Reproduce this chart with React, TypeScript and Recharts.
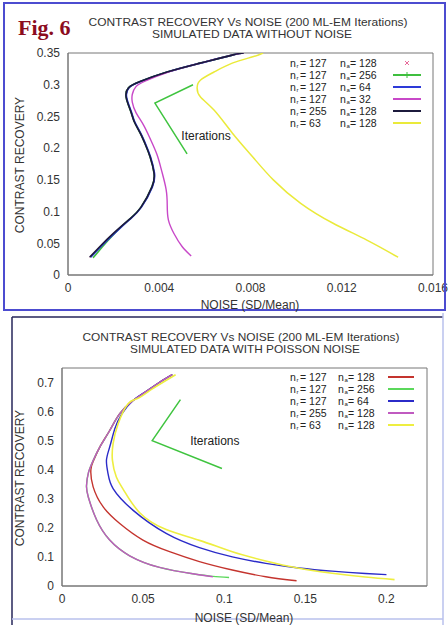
import { Line, LineChart, ReferenceArea, ReferenceDot, XAxis, YAxis } from "recharts";

// ---- Fig. 6 top: simulated data without noise  [noise, contrast recovery]
const topNr127Na128: number[][] = [
  [0.00095, 0.028], [0.0014, 0.045], [0.002, 0.066], [0.0027, 0.088], [0.0032, 0.107], [0.00368, 0.139],
  [0.00377, 0.161], [0.0036, 0.186], [0.0034, 0.205], [0.00316, 0.224], [0.0029, 0.242], [0.00275, 0.258],
  [0.00255, 0.28], [0.00265, 0.295], [0.00316, 0.305], [0.00434, 0.32], [0.00579, 0.334], [0.00723, 0.347],
  [0.0077, 0.35],
];
const topNr127Na256: number[][] = [
  [0.0011, 0.027], [0.0015, 0.044], [0.002, 0.064], [0.0027, 0.088], [0.0032, 0.107], [0.00368, 0.139],
  [0.00377, 0.161], [0.0036, 0.186], [0.0034, 0.205], [0.00316, 0.224], [0.0029, 0.242], [0.00275, 0.258],
  [0.00255, 0.28], [0.00265, 0.295], [0.00316, 0.305], [0.00434, 0.32], [0.00579, 0.334], [0.00723, 0.347],
  [0.0077, 0.35],
];
const topNr127Na64: number[][] = [
  [0.001, 0.028], [0.00145, 0.045], [0.00205, 0.066], [0.00272, 0.088], [0.00322, 0.107], [0.0037, 0.139],
  [0.00379, 0.161], [0.00362, 0.186], [0.00342, 0.205], [0.00318, 0.224], [0.00292, 0.242], [0.00277, 0.258],
  [0.00257, 0.28], [0.00267, 0.295], [0.00318, 0.305], [0.00436, 0.32], [0.0058, 0.334], [0.00724, 0.347],
  [0.0077, 0.35],
];
const topNr127Na32: number[][] = [
  [0.0054, 0.03], [0.005, 0.045], [0.00465, 0.065], [0.0044, 0.087], [0.00435, 0.11], [0.0043, 0.135],
  [0.0041, 0.165], [0.0039, 0.19], [0.0036, 0.215], [0.0033, 0.237], [0.00298, 0.256], [0.00282, 0.272],
  [0.00282, 0.285], [0.00298, 0.297], [0.0034, 0.306], [0.0044, 0.32], [0.0058, 0.334], [0.00724, 0.347],
  [0.0077, 0.35],
];
const topNr255Na128: number[][] = topNr127Na128;
const topNr63Na128: number[][] = [
  [0.01447, 0.028], [0.0131, 0.055], [0.0116, 0.082], [0.0102, 0.113], [0.009, 0.15], [0.0081, 0.186],
  [0.0072, 0.224], [0.0064, 0.26], [0.0058, 0.281], [0.00566, 0.295], [0.0058, 0.307], [0.0064, 0.32],
  [0.0072, 0.334], [0.0081, 0.344], [0.00855, 0.35],
];
const topArrow: number[][] = [[0.00548, 0.3], [0.00381, 0.271], [0.00522, 0.191]];
const topXTicks = [0, 0.004, 0.008, 0.012, 0.016];
const topYTicks = [0, 0.05, 0.1, 0.15, 0.2, 0.25, 0.3, 0.35];

// ---- bottom: simulated data with Poisson noise
const botNr127Na128: number[][] = [
  [0.068, 0.727], [0.06, 0.7], [0.052, 0.67], [0.0438, 0.638], [0.0356, 0.593], [0.0294, 0.535],
  [0.0233, 0.478], [0.0195, 0.432], [0.0178, 0.4], [0.0192, 0.341], [0.0254, 0.272], [0.0356, 0.215],
  [0.0499, 0.158], [0.0663, 0.118], [0.0847, 0.084], [0.105, 0.055], [0.1256, 0.032], [0.1446, 0.018],
];
const botNr127Na256: number[][] = [
  [0.068, 0.727], [0.06, 0.7], [0.052, 0.67], [0.0438, 0.638], [0.0356, 0.593], [0.0294, 0.535],
  [0.0233, 0.478], [0.0192, 0.432], [0.0163, 0.39], [0.0151, 0.345], [0.0162, 0.306], [0.0213, 0.228],
  [0.0294, 0.158], [0.0417, 0.104], [0.0601, 0.064], [0.0806, 0.042], [0.093, 0.033], [0.103, 0.029],
];
const botNr127Na64: number[][] = [
  [0.068, 0.727], [0.06, 0.7], [0.052, 0.67], [0.0438, 0.638], [0.0366, 0.59], [0.0325, 0.54],
  [0.0294, 0.478], [0.0274, 0.432], [0.0284, 0.386], [0.0315, 0.335], [0.0437, 0.261], [0.0642, 0.181],
  [0.0847, 0.132], [0.105, 0.1], [0.1256, 0.078], [0.146, 0.062], [0.1665, 0.051], [0.187, 0.043], [0.2, 0.039],
];
const botNr255Na128: number[][] = [
  [0.068, 0.727], [0.06, 0.7], [0.052, 0.67], [0.0438, 0.638], [0.0356, 0.593], [0.0294, 0.535],
  [0.0233, 0.478], [0.0192, 0.432], [0.0163, 0.39], [0.0151, 0.345], [0.0162, 0.306], [0.0213, 0.228],
  [0.0294, 0.158], [0.0417, 0.104], [0.0601, 0.064], [0.0806, 0.042], [0.093, 0.032],
];
const botNr63Na128: number[][] = [
  [0.07, 0.727], [0.062, 0.7], [0.054, 0.672], [0.0465, 0.645], [0.0407, 0.627], [0.0346, 0.558],
  [0.0315, 0.49], [0.0311, 0.432], [0.0335, 0.375], [0.038, 0.33], [0.0479, 0.252], [0.0642, 0.194],
  [0.0847, 0.157], [0.105, 0.118], [0.1256, 0.086], [0.146, 0.061], [0.1665, 0.044], [0.187, 0.031], [0.205, 0.022],
];
const botArrow: number[][] = [[0.073, 0.641], [0.0556, 0.5], [0.0986, 0.404]];
const botXTicks = [0, 0.05, 0.1, 0.15, 0.2];
const botYTicks = [0, 0.1, 0.2, 0.3, 0.4, 0.5, 0.6, 0.7];

const topNr = ["127", "127", "127", "127", "255", "63"];
const topNa = ["128", "256", "64", "32", "128", "128"];
const botNr = ["127", "127", "127", "255", "63"];
const botNa = ["128", "256", "64", "128", "128"];

const FONT = "'Liberation Sans', Arial, Helvetica, sans-serif";
const INK = "#333";

const toXY = (pts: number[][]) => pts.map(([x, y]) => ({ x, y }));

type Series = { pts: number[][]; color: string; width: number; marker?: "plus" | "star"; key: string };

const topSeries: Series[] = [
  { key: "t0", pts: topNr127Na128, color: "#e86a9a", width: 1, marker: "star" },
  { key: "t1", pts: topNr127Na256, color: "#3fbf3f", width: 1.6, marker: "plus" },
  { key: "t2", pts: topNr127Na64, color: "#2d3ad8", width: 1.6 },
  { key: "t3", pts: topNr127Na32, color: "#c848c8", width: 1.4 },
  { key: "t4", pts: topNr255Na128, color: "#1c1a3c", width: 1.6 },
  { key: "t5", pts: topNr63Na128, color: "#eaea3a", width: 1.5 },
];
const botSeries: Series[] = [
  { key: "b0", pts: botNr127Na128, color: "#c4342e", width: 1.4 },
  { key: "b1", pts: botNr127Na256, color: "#5bd85b", width: 1.4 },
  { key: "b2", pts: botNr127Na64, color: "#2b2bc8", width: 1.4 },
  { key: "b3", pts: botNr255Na128, color: "#c05ac0", width: 1.4 },
  { key: "b4", pts: botNr63Na128, color: "#eeee40", width: 1.6 },
];

function Nlabel({ x, y, sub, value }: { x: number; y: number; sub: string; value: string }) {
  return (
    <g fontFamily={FONT} fill="#222">
      <text x={x} y={y} fontSize={10.5}>n</text>
      <text x={x + 6.5} y={y + 1} fontSize={6}>{sub}</text>
      <text x={x + 10} y={y} fontSize={10.5}>{"= " + value}</text>
    </g>
  );
}

function LegendBox({ x, y, nr, na, series, naX, lineX1, lineX2 }: {
  x: number; y: number; nr: string[]; na: string[]; series: Series[]; naX: number; lineX1: number; lineX2: number;
}) {
  return (
    <g transform={`translate(${x},${y})`}>
      {nr.map((v, i) => {
        const s = series[i];
        const yy = 11 + i * 12;
        const mid = (lineX1 + lineX2) / 2;
        return (
          <g key={i}>
            <Nlabel x={0} y={yy} sub="r" value={v} />
            <Nlabel x={naX} y={yy} sub="a" value={na[i]} />
            {s.marker === "star" ? (
              <g stroke={s.color} strokeWidth={1}>
                <line x1={mid - 2} x2={mid + 2} y1={yy - 6} y2={yy - 2} />
                <line x1={mid - 2} x2={mid + 2} y1={yy - 2} y2={yy - 6} />
              </g>
            ) : (
              <g stroke={s.color} strokeWidth={2}>
                <line x1={lineX1} x2={lineX2} y1={yy - 4} y2={yy - 4} />
                {s.marker === "plus" && <line x1={mid} x2={mid} y1={yy - 7} y2={yy - 1} strokeWidth={1} />}
              </g>
            )}
          </g>
        );
      })}
    </g>
  );
}

function Panel({ series, arrow, xMax, yMax, xTicks, yTicks, margin, height, iterAt }: {
  series: Series[]; arrow: number[][]; xMax: number; yMax: number; xTicks: number[]; yTicks: number[];
  margin: { top: number; right: number; bottom: number; left: number }; height: number; iterAt: number[];
}) {
  const tick = { fontSize: 12, fill: INK, fontFamily: FONT };
  return (
    <LineChart width={448} height={height} margin={margin}>
      <XAxis type="number" dataKey="x" domain={[0, xMax]} ticks={xTicks} allowDataOverflow
        tick={tick} tickLine={false} axisLine={{ stroke: "#777" }} height={25} />
      <YAxis type="number" dataKey="y" domain={[0, yMax]} ticks={yTicks} allowDataOverflow
        tick={tick} tickLine={false} axisLine={{ stroke: "#777" }} width={50} />
      <ReferenceArea x1={0} x2={xMax} y1={0} y2={yMax} fill="none" stroke="#777" strokeWidth={1} />
      {series.map((s) => (
        <Line key={s.key} data={toXY(s.pts)} dataKey="y" type="natural" stroke={s.color}
          strokeWidth={s.width} dot={false} isAnimationActive={false} />
      ))}
      <Line data={toXY(arrow)} dataKey="y" type="linear" stroke="#3fc43f" strokeWidth={1.5}
        dot={false} isAnimationActive={false} />
      <ReferenceDot x={iterAt[0]} y={iterAt[1]} r={0} fill="none" stroke="none"
        label={{ value: "Iterations", position: "center", fontSize: 12, fill: "#222", fontFamily: FONT }} />
    </LineChart>
  );
}

export default function App() {
  return (
    <div style={{ position: "absolute", left: 0, top: 0, width: 448, height: 625, background: "#fff", fontFamily: FONT }}>
      <div style={{ position: "absolute", left: 0, top: 0 }}>
        <Panel series={topSeries} arrow={topArrow} xMax={0.016} yMax={0.35} xTicks={topXTicks} yTicks={topYTicks}
          margin={{ top: 53, right: 15, bottom: 12, left: 18 }} height={312} iterAt={[0.00605, 0.219]} />
      </div>
      <div style={{ position: "absolute", left: 0, top: 312 }}>
        <Panel series={botSeries} arrow={botArrow} xMax={0.225} yMax={0.75} xTicks={botXTicks} yTicks={botYTicks}
          margin={{ top: 56, right: 21, bottom: 14, left: 12 }} height={313} iterAt={[0.0942, 0.501]} />
      </div>
      <svg width={448} height={625} style={{ position: "absolute", left: 0, top: 0, pointerEvents: "none" }}>
        <rect x={4} y={3} width={441} height={307} fill="none" stroke="#4c4cd0" strokeWidth={2} />
        <line x1={12} x2={443} y1={317} y2={317} stroke="#26265a" strokeWidth={1.5} />
        <line x1={12} x2={12} y1={317} y2={625} stroke="#26265a" strokeWidth={1.5} />
        <line x1={443} x2={443} y1={313} y2={625} stroke="#b9c0ec" strokeWidth={1.5} />
        <line x1={12} x2={443} y1={619} y2={619} stroke="#b9c0ec" strokeWidth={1.5} />
        <LegendBox x={290} y={56} nr={topNr} na={topNa} series={topSeries} naX={50} lineX1={103} lineX2={131} />
        <LegendBox x={290} y={370} nr={botNr} na={botNa} series={botSeries} naX={48} lineX1={98} lineX2={124} />
        <text x={18} y={35} fontSize={22} fontWeight="bold" fill="#8c0c1e" fontFamily="'Liberation Serif', 'Times New Roman', serif">Fig. 6</text>
        <g fontFamily={FONT} fill={INK} fontSize={11} textAnchor="middle">
          <text x={248} y={26} textLength={319} lengthAdjust="spacingAndGlyphs">CONTRAST RECOVERY Vs NOISE  (200 ML-EM Iterations)</text>
          <text x={252} y={38} textLength={200} lengthAdjust="spacingAndGlyphs">SIMULATED DATA WITHOUT NOISE</text>
          <text x={241} y={341} textLength={317} lengthAdjust="spacingAndGlyphs">CONTRAST RECOVERY Vs NOISE  (200 ML-EM Iterations)</text>
          <text x={245} y={353} textLength={230} lengthAdjust="spacingAndGlyphs">SIMULATED DATA WITH POISSON NOISE</text>
          <text x={250} y={309} fontSize={12}>NOISE (SD/Mean)</text>
          <text x={244} y={622} fontSize={12}>NOISE (SD/Mean)</text>
          <text transform="translate(24,165) rotate(-90)" fontSize={12}>CONTRAST RECOVERY</text>
          <text transform="translate(24,478) rotate(-90)" fontSize={12}>CONTRAST RECOVERY</text>
        </g>
      </svg>
    </div>
  );
}
